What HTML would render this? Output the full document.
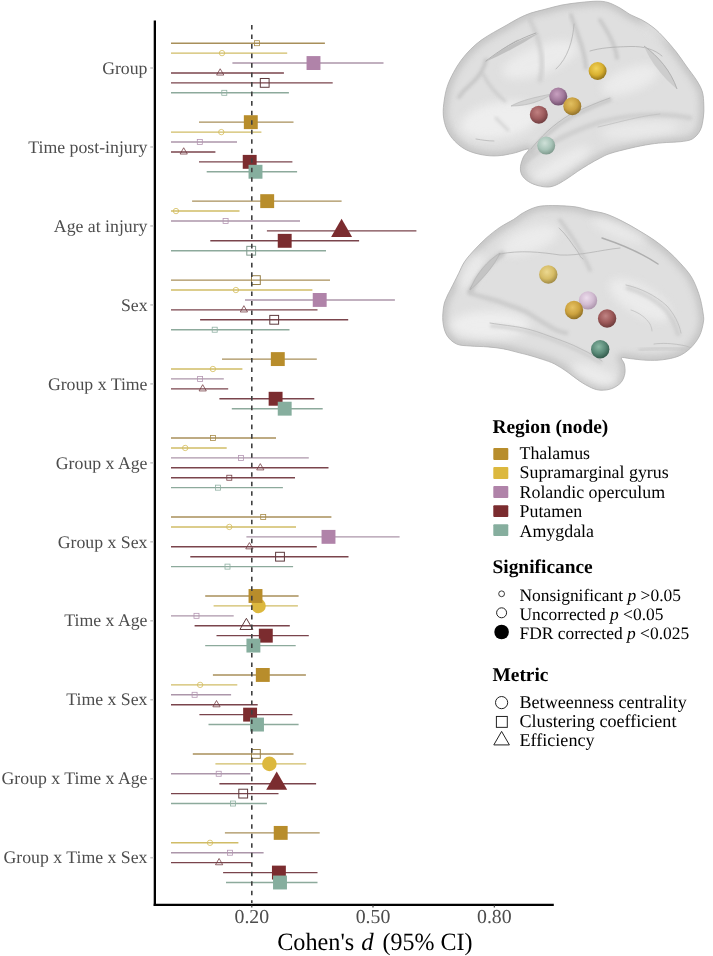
<!DOCTYPE html>
<html><head><meta charset="utf-8"><title>Forest plot</title>
<style>
html,body{margin:0;padding:0;background:#fff;}
body{width:713px;height:956px;overflow:hidden;}
svg{display:block;will-change:transform;}
text{font-family:"Liberation Serif",serif;text-rendering:geometricPrecision;}
.yt{font-size:17.75px;fill:#4d4d4d;}
.xt{font-size:19.8px;fill:#4d4d4d;}
.xtitle{font-size:24.8px;fill:#000;}
.lt{font-size:19.4px;font-weight:bold;fill:#000;}
.ll{font-size:17.9px;fill:#000;}
.ls{font-size:17.45px;}
.lm{font-size:18.1px;}
</style></head>
<body>
<svg width="713" height="956" viewBox="0 0 713 956">
<defs>
<radialGradient id="bg1" cx="0.45" cy="0.4" r="0.65"><stop offset="0" stop-color="#e6e6e6"/><stop offset="0.7" stop-color="#dcdcdc"/><stop offset="1" stop-color="#cfcfcf"/></radialGradient>
<radialGradient id="bg2" cx="0.45" cy="0.45" r="0.65"><stop offset="0" stop-color="#e6e6e6"/><stop offset="0.7" stop-color="#dcdcdc"/><stop offset="1" stop-color="#cfcfcf"/></radialGradient>
<radialGradient id="sp_yel" cx="0.4" cy="0.35" r="0.7"><stop offset="0" stop-color="#f0d060"/><stop offset="0.55" stop-color="#d8ae30"/><stop offset="1" stop-color="#9a7a20"/></radialGradient>
<radialGradient id="sp_pink" cx="0.4" cy="0.35" r="0.7"><stop offset="0" stop-color="#d8b0d0"/><stop offset="0.55" stop-color="#a880a0"/><stop offset="1" stop-color="#705070"/></radialGradient>
<radialGradient id="sp_gold" cx="0.4" cy="0.35" r="0.7"><stop offset="0" stop-color="#e0b050"/><stop offset="0.55" stop-color="#c0922c"/><stop offset="1" stop-color="#806020"/></radialGradient>
<radialGradient id="sp_red" cx="0.4" cy="0.35" r="0.7"><stop offset="0" stop-color="#b06060"/><stop offset="0.55" stop-color="#8a4444"/><stop offset="1" stop-color="#5a2a2a"/></radialGradient>
<radialGradient id="sp_teal" cx="0.4" cy="0.35" r="0.7"><stop offset="0" stop-color="#b0d0c0"/><stop offset="0.55" stop-color="#80a898"/><stop offset="1" stop-color="#506a60"/></radialGradient>
<filter id="blur2" x="-20%" y="-20%" width="140%" height="140%"><feGaussianBlur stdDeviation="1.5"/></filter>
<filter id="blur3" x="-20%" y="-20%" width="140%" height="140%"><feGaussianBlur stdDeviation="3"/></filter>
<filter id="blur4" x="-50%" y="-50%" width="200%" height="200%"><feGaussianBlur stdDeviation="5"/></filter>
</defs>
<rect width="713" height="956" fill="#fff"/>
<clipPath id="cb1"><path d="M444.3,100.0 C445.0,95.2 445.8,91.0 447.3,86.4 C448.8,81.8 451.2,76.9 453.5,72.5 C455.8,68.1 458.4,64.0 461.2,60.2 C464.0,56.4 467.1,52.8 470.5,49.4 C473.9,46.0 477.4,42.9 481.3,40.1 C485.2,37.3 489.5,34.8 493.6,32.4 C497.7,30.0 501.9,27.8 506.0,25.5 C510.1,23.2 514.2,20.6 518.3,18.5 C522.4,16.4 526.2,14.6 530.7,13.1 C535.2,11.6 539.8,10.7 545.0,9.3 C550.2,8.0 556.2,6.1 562.0,5.0 C567.8,3.9 574.2,3.1 580.0,2.5 C585.8,1.9 592.3,1.2 597.0,1.2 C601.7,1.2 604.2,1.4 608.0,2.5 C611.8,3.6 616.3,6.0 620.0,8.0 C623.7,10.0 626.3,12.5 630.0,14.5 C633.7,16.5 638.0,17.8 642.0,20.0 C646.0,22.2 650.3,25.0 654.0,28.0 C657.7,31.0 660.6,34.0 664.3,38.0 C668.0,42.0 672.6,47.3 676.3,52.0 C680.0,56.7 682.9,61.3 686.3,66.0 C689.6,70.7 693.7,75.7 696.4,80.0 C699.1,84.3 701.2,87.8 702.4,92.0 C703.6,96.2 703.6,100.8 703.8,105.0 C704.0,109.2 704.0,112.8 703.4,117.0 C702.8,121.2 702.2,126.3 700.4,130.0 C698.5,133.7 695.6,137.1 692.3,139.0 C688.9,140.9 684.6,141.1 680.3,141.7 C676.0,142.3 671.3,142.1 666.3,142.5 C661.3,142.9 656.2,143.2 650.2,144.2 C644.2,145.1 636.9,146.6 630.2,148.2 C623.5,149.8 615.1,151.8 610.0,153.5 C604.9,155.2 603.4,156.4 599.8,158.2 C596.2,160.0 592.2,162.3 588.5,164.5 C584.8,166.7 581.0,169.1 577.3,171.6 C573.6,174.1 569.6,177.1 566.1,179.3 C562.6,181.5 559.3,183.6 556.3,184.9 C553.3,186.2 550.9,186.9 547.9,187.0 C544.9,187.1 541.3,186.5 538.0,185.6 C534.7,184.7 530.9,183.2 528.2,181.4 C525.5,179.6 523.2,177.5 521.9,175.0 C520.6,172.5 520.2,169.6 520.5,166.6 C520.8,163.6 522.2,159.7 523.5,156.8 C524.8,153.9 530.2,149.6 528.5,149.0 C526.8,148.4 518.6,152.1 513.5,153.2 C508.4,154.3 503.0,155.5 497.8,155.8 C492.6,156.1 487.3,155.8 482.1,154.8 C476.9,153.8 471.0,152.2 466.4,149.9 C461.8,147.6 457.9,144.4 454.6,141.0 C451.3,137.6 448.7,133.6 446.8,129.3 C444.9,125.0 443.7,119.9 443.3,115.0 C442.9,110.1 443.6,104.8 444.3,100.0 Z"/></clipPath>
<path d="M444.3,100.0 C445.0,95.2 445.8,91.0 447.3,86.4 C448.8,81.8 451.2,76.9 453.5,72.5 C455.8,68.1 458.4,64.0 461.2,60.2 C464.0,56.4 467.1,52.8 470.5,49.4 C473.9,46.0 477.4,42.9 481.3,40.1 C485.2,37.3 489.5,34.8 493.6,32.4 C497.7,30.0 501.9,27.8 506.0,25.5 C510.1,23.2 514.2,20.6 518.3,18.5 C522.4,16.4 526.2,14.6 530.7,13.1 C535.2,11.6 539.8,10.7 545.0,9.3 C550.2,8.0 556.2,6.1 562.0,5.0 C567.8,3.9 574.2,3.1 580.0,2.5 C585.8,1.9 592.3,1.2 597.0,1.2 C601.7,1.2 604.2,1.4 608.0,2.5 C611.8,3.6 616.3,6.0 620.0,8.0 C623.7,10.0 626.3,12.5 630.0,14.5 C633.7,16.5 638.0,17.8 642.0,20.0 C646.0,22.2 650.3,25.0 654.0,28.0 C657.7,31.0 660.6,34.0 664.3,38.0 C668.0,42.0 672.6,47.3 676.3,52.0 C680.0,56.7 682.9,61.3 686.3,66.0 C689.6,70.7 693.7,75.7 696.4,80.0 C699.1,84.3 701.2,87.8 702.4,92.0 C703.6,96.2 703.6,100.8 703.8,105.0 C704.0,109.2 704.0,112.8 703.4,117.0 C702.8,121.2 702.2,126.3 700.4,130.0 C698.5,133.7 695.6,137.1 692.3,139.0 C688.9,140.9 684.6,141.1 680.3,141.7 C676.0,142.3 671.3,142.1 666.3,142.5 C661.3,142.9 656.2,143.2 650.2,144.2 C644.2,145.1 636.9,146.6 630.2,148.2 C623.5,149.8 615.1,151.8 610.0,153.5 C604.9,155.2 603.4,156.4 599.8,158.2 C596.2,160.0 592.2,162.3 588.5,164.5 C584.8,166.7 581.0,169.1 577.3,171.6 C573.6,174.1 569.6,177.1 566.1,179.3 C562.6,181.5 559.3,183.6 556.3,184.9 C553.3,186.2 550.9,186.9 547.9,187.0 C544.9,187.1 541.3,186.5 538.0,185.6 C534.7,184.7 530.9,183.2 528.2,181.4 C525.5,179.6 523.2,177.5 521.9,175.0 C520.6,172.5 520.2,169.6 520.5,166.6 C520.8,163.6 522.2,159.7 523.5,156.8 C524.8,153.9 530.2,149.6 528.5,149.0 C526.8,148.4 518.6,152.1 513.5,153.2 C508.4,154.3 503.0,155.5 497.8,155.8 C492.6,156.1 487.3,155.8 482.1,154.8 C476.9,153.8 471.0,152.2 466.4,149.9 C461.8,147.6 457.9,144.4 454.6,141.0 C451.3,137.6 448.7,133.6 446.8,129.3 C444.9,125.0 443.7,119.9 443.3,115.0 C442.9,110.1 443.6,104.8 444.3,100.0 Z" fill="#dfdfdf"/>
<g clip-path="url(#cb1)">
<path d="M444.3,100.0 C445.0,95.2 445.8,91.0 447.3,86.4 C448.8,81.8 451.2,76.9 453.5,72.5 C455.8,68.1 458.4,64.0 461.2,60.2 C464.0,56.4 467.1,52.8 470.5,49.4 C473.9,46.0 477.4,42.9 481.3,40.1 C485.2,37.3 489.5,34.8 493.6,32.4 C497.7,30.0 501.9,27.8 506.0,25.5 C510.1,23.2 514.2,20.6 518.3,18.5 C522.4,16.4 526.2,14.6 530.7,13.1 C535.2,11.6 539.8,10.7 545.0,9.3 C550.2,8.0 556.2,6.1 562.0,5.0 C567.8,3.9 574.2,3.1 580.0,2.5 C585.8,1.9 592.3,1.2 597.0,1.2 C601.7,1.2 604.2,1.4 608.0,2.5 C611.8,3.6 616.3,6.0 620.0,8.0 C623.7,10.0 626.3,12.5 630.0,14.5 C633.7,16.5 638.0,17.8 642.0,20.0 C646.0,22.2 650.3,25.0 654.0,28.0 C657.7,31.0 660.6,34.0 664.3,38.0 C668.0,42.0 672.6,47.3 676.3,52.0 C680.0,56.7 682.9,61.3 686.3,66.0 C689.6,70.7 693.7,75.7 696.4,80.0 C699.1,84.3 701.2,87.8 702.4,92.0 C703.6,96.2 703.6,100.8 703.8,105.0 C704.0,109.2 704.0,112.8 703.4,117.0 C702.8,121.2 702.2,126.3 700.4,130.0 C698.5,133.7 695.6,137.1 692.3,139.0 C688.9,140.9 684.6,141.1 680.3,141.7 C676.0,142.3 671.3,142.1 666.3,142.5 C661.3,142.9 656.2,143.2 650.2,144.2 C644.2,145.1 636.9,146.6 630.2,148.2 C623.5,149.8 615.1,151.8 610.0,153.5 C604.9,155.2 603.4,156.4 599.8,158.2 C596.2,160.0 592.2,162.3 588.5,164.5 C584.8,166.7 581.0,169.1 577.3,171.6 C573.6,174.1 569.6,177.1 566.1,179.3 C562.6,181.5 559.3,183.6 556.3,184.9 C553.3,186.2 550.9,186.9 547.9,187.0 C544.9,187.1 541.3,186.5 538.0,185.6 C534.7,184.7 530.9,183.2 528.2,181.4 C525.5,179.6 523.2,177.5 521.9,175.0 C520.6,172.5 520.2,169.6 520.5,166.6 C520.8,163.6 522.2,159.7 523.5,156.8 C524.8,153.9 530.2,149.6 528.5,149.0 C526.8,148.4 518.6,152.1 513.5,153.2 C508.4,154.3 503.0,155.5 497.8,155.8 C492.6,156.1 487.3,155.8 482.1,154.8 C476.9,153.8 471.0,152.2 466.4,149.9 C461.8,147.6 457.9,144.4 454.6,141.0 C451.3,137.6 448.7,133.6 446.8,129.3 C444.9,125.0 443.7,119.9 443.3,115.0 C442.9,110.1 443.6,104.8 444.3,100.0 Z" fill="none" stroke="#bdbdbd" stroke-width="9" filter="url(#blur3)" opacity="0.75"/>
<ellipse cx="500" cy="120" rx="40" ry="18" transform="rotate(-10 500 120)" fill="#f4f4f4" opacity="0.7" filter="url(#blur4)"/>
<ellipse cx="540" cy="60" rx="40" ry="14" transform="rotate(-20 540 60)" fill="#f4f4f4" opacity="0.6" filter="url(#blur4)"/>
<ellipse cx="630" cy="80" rx="30" ry="12" transform="rotate(-20 630 80)" fill="#f4f4f4" opacity="0.6" filter="url(#blur4)"/>
<ellipse cx="640" cy="130" rx="40" ry="8" transform="rotate(-5 640 130)" fill="#f4f4f4" opacity="0.5" filter="url(#blur4)"/>
<ellipse cx="560" cy="165" rx="35" ry="8" transform="rotate(-30 560 165)" fill="#f4f4f4" opacity="0.6" filter="url(#blur4)"/>
<ellipse cx="660" cy="30" rx="20" ry="8" transform="rotate(30 660 30)" fill="#f4f4f4" opacity="0.5" filter="url(#blur4)"/>
<path d="M571,15 C578,35 585,52 586,68" fill="none" stroke="#c4c4c4" stroke-width="4" stroke-linecap="round" opacity="0.8" filter="url(#blur2)"/>
<path d="M600,20 C610,35 616,48 617,58" fill="none" stroke="#c4c4c4" stroke-width="4" stroke-linecap="round" opacity="0.8" filter="url(#blur2)"/>
<path d="M531,152 C540,140 552,128 571,117 C585,110 598,104 610,100" fill="none" stroke="#c4c4c4" stroke-width="4" stroke-linecap="round" opacity="0.8" filter="url(#blur2)"/>
<path d="M486,60 C484,70 478,78 470,85 C464,90 461,94 459,97" fill="none" stroke="#c2c2c2" stroke-width="4" stroke-linecap="round" opacity="0.8" filter="url(#blur2)"/>
<path d="M483,74 C488,84 496,94 505,101" fill="none" stroke="#c6c6c6" stroke-width="3" stroke-linecap="round" opacity="0.7" filter="url(#blur2)"/>
<path d="M496,118 C500,122 504,126 508,130" fill="none" stroke="#c6c6c6" stroke-width="3" stroke-linecap="round" opacity="0.6" filter="url(#blur2)"/>
<path d="M520,165 C540,150 560,135 600,122 C630,115 660,112 690,118" fill="none" stroke="#c6c6c6" stroke-width="5" stroke-linecap="round" opacity="0.6" filter="url(#blur2)"/>
<path d="M530,20 C540,40 545,60 540,80" fill="none" stroke="#c8c8c8" stroke-width="5" stroke-linecap="round" opacity="0.6" filter="url(#blur2)"/>
<path d="M486,61 C500,50 516,40 536,33" fill="none" stroke="#a8a8a8" stroke-width="1.0" stroke-linecap="round" opacity="0.9"/>
<path d="M500,51 C506,47 512,43 518,40" fill="none" stroke="#b0b0b0" stroke-width="1.0" stroke-linecap="round" opacity="0.8"/>
<path d="M574,24 C573,40 568,58 556,69" fill="none" stroke="#b4b4b4" stroke-width="1.0" stroke-linecap="round" opacity="0.8"/>
<path d="M590,51 C600,48 612,47 630,46.5 C645,46 655,50 662,56" fill="none" stroke="#b0b0b0" stroke-width="1.0" stroke-linecap="round" opacity="0.8"/>
<path d="M476,139 C482,140 488,141 494,141" fill="none" stroke="#b8b8b8" stroke-width="1.0" stroke-linecap="round" opacity="0.8"/>
<path d="M531,149 C540,138 552,125 571,114 C585,108 598,102 610,98" fill="none" stroke="#b4b4b4" stroke-width="1.0" stroke-linecap="round" opacity="0.8"/>
<path d="M598,127 C620,122 640,116 660,114" fill="none" stroke="#c0c0c0" stroke-width="1.0" stroke-linecap="round" opacity="0.8"/>
<path d="M511,106 C522,100 536,97 552,94 C541,101 528,106 511,106 Z" fill="#d2d2d2" stroke="#b4b4b4" stroke-width="0.6"/><path d="M485,62 C500,50 518,40 539,33 C522,44 504,54 485,62 Z" fill="#bcbcbc" opacity="0.9"/><path d="M644,46 C658,56 671,71 677,89 C669,83 652,66 644,46 Z" fill="#cdcdcd"/><path d="M644,46 C658,56 671,71 677,89" fill="none" stroke="#a8a8a8" stroke-width="0.8"/>
</g>
<path d="M444.3,100.0 C445.0,95.2 445.8,91.0 447.3,86.4 C448.8,81.8 451.2,76.9 453.5,72.5 C455.8,68.1 458.4,64.0 461.2,60.2 C464.0,56.4 467.1,52.8 470.5,49.4 C473.9,46.0 477.4,42.9 481.3,40.1 C485.2,37.3 489.5,34.8 493.6,32.4 C497.7,30.0 501.9,27.8 506.0,25.5 C510.1,23.2 514.2,20.6 518.3,18.5 C522.4,16.4 526.2,14.6 530.7,13.1 C535.2,11.6 539.8,10.7 545.0,9.3 C550.2,8.0 556.2,6.1 562.0,5.0 C567.8,3.9 574.2,3.1 580.0,2.5 C585.8,1.9 592.3,1.2 597.0,1.2 C601.7,1.2 604.2,1.4 608.0,2.5 C611.8,3.6 616.3,6.0 620.0,8.0 C623.7,10.0 626.3,12.5 630.0,14.5 C633.7,16.5 638.0,17.8 642.0,20.0 C646.0,22.2 650.3,25.0 654.0,28.0 C657.7,31.0 660.6,34.0 664.3,38.0 C668.0,42.0 672.6,47.3 676.3,52.0 C680.0,56.7 682.9,61.3 686.3,66.0 C689.6,70.7 693.7,75.7 696.4,80.0 C699.1,84.3 701.2,87.8 702.4,92.0 C703.6,96.2 703.6,100.8 703.8,105.0 C704.0,109.2 704.0,112.8 703.4,117.0 C702.8,121.2 702.2,126.3 700.4,130.0 C698.5,133.7 695.6,137.1 692.3,139.0 C688.9,140.9 684.6,141.1 680.3,141.7 C676.0,142.3 671.3,142.1 666.3,142.5 C661.3,142.9 656.2,143.2 650.2,144.2 C644.2,145.1 636.9,146.6 630.2,148.2 C623.5,149.8 615.1,151.8 610.0,153.5 C604.9,155.2 603.4,156.4 599.8,158.2 C596.2,160.0 592.2,162.3 588.5,164.5 C584.8,166.7 581.0,169.1 577.3,171.6 C573.6,174.1 569.6,177.1 566.1,179.3 C562.6,181.5 559.3,183.6 556.3,184.9 C553.3,186.2 550.9,186.9 547.9,187.0 C544.9,187.1 541.3,186.5 538.0,185.6 C534.7,184.7 530.9,183.2 528.2,181.4 C525.5,179.6 523.2,177.5 521.9,175.0 C520.6,172.5 520.2,169.6 520.5,166.6 C520.8,163.6 522.2,159.7 523.5,156.8 C524.8,153.9 530.2,149.6 528.5,149.0 C526.8,148.4 518.6,152.1 513.5,153.2 C508.4,154.3 503.0,155.5 497.8,155.8 C492.6,156.1 487.3,155.8 482.1,154.8 C476.9,153.8 471.0,152.2 466.4,149.9 C461.8,147.6 457.9,144.4 454.6,141.0 C451.3,137.6 448.7,133.6 446.8,129.3 C444.9,125.0 443.7,119.9 443.3,115.0 C442.9,110.1 443.6,104.8 444.3,100.0 Z" fill="none" stroke="#b0b0b0" stroke-width="0.8"/>
<clipPath id="cb2"><path d="M443.8,305.7 C444.5,301.6 445.7,299.8 446.8,297.0 C447.9,294.2 448.7,293.1 450.7,289.2 C452.7,285.3 456.3,278.1 458.6,273.5 C460.9,268.9 461.9,265.7 464.5,261.8 C467.1,257.9 470.7,253.9 474.3,250.0 C477.9,246.1 481.9,242.0 486.1,238.2 C490.4,234.4 495.2,230.5 499.8,227.4 C504.4,224.3 509.6,221.9 513.5,219.5 C517.4,217.1 519.5,214.8 523.4,212.7 C527.3,210.6 532.2,208.0 537.1,206.8 C542.0,205.6 546.5,205.6 552.8,205.6 C559.1,205.6 568.8,206.0 575.0,206.8 C581.2,207.6 584.9,209.3 590.1,210.5 C595.3,211.7 600.8,212.2 606.1,214.0 C611.4,215.8 616.8,218.4 622.1,221.1 C627.5,223.8 632.9,226.9 638.2,230.1 C643.6,233.3 649.2,236.6 654.2,240.1 C659.2,243.6 663.9,247.3 668.3,251.2 C672.6,255.0 676.6,259.2 680.3,263.2 C684.0,267.2 687.6,271.2 690.3,275.2 C693.0,279.2 694.7,283.2 696.4,287.3 C698.1,291.4 699.5,295.6 700.6,300.0 C701.7,304.4 702.7,310.3 703.2,314.0 C703.7,317.7 704.0,318.4 703.4,322.1 C702.8,325.8 701.6,331.8 699.4,336.1 C697.2,340.5 693.8,344.9 690.3,348.2 C686.8,351.5 683.0,354.3 678.3,356.2 C673.6,358.1 667.6,359.1 662.3,359.8 C656.9,360.5 651.6,360.4 646.2,360.2 C640.9,360.0 634.3,359.0 630.2,358.6 C626.1,358.2 622.5,356.9 621.5,357.8 C620.5,358.7 623.7,361.4 624.3,364.0 C624.9,366.6 625.4,370.1 624.9,373.2 C624.4,376.3 623.2,379.9 621.0,382.5 C618.8,385.1 615.1,387.3 611.8,388.6 C608.5,389.9 604.4,390.3 601.0,390.2 C597.6,390.1 595.3,389.4 591.7,387.9 C588.1,386.3 583.5,383.6 579.4,380.9 C575.3,378.2 571.1,374.5 567.0,371.7 C562.9,368.9 558.8,366.1 554.7,364.0 C550.6,361.9 546.4,360.7 542.3,359.3 C538.2,357.9 533.8,356.6 530.0,355.5 C526.2,354.4 523.8,353.9 519.4,352.8 C515.0,351.7 508.9,349.9 503.7,348.9 C498.5,347.9 493.6,347.4 488.0,346.9 C482.4,346.4 475.5,346.5 470.3,346.0 C465.1,345.5 460.5,345.8 456.6,344.0 C452.7,342.2 449.1,339.0 446.8,335.2 C444.5,331.4 443.4,326.3 442.9,321.4 C442.4,316.5 443.1,309.8 443.8,305.7 Z"/></clipPath>
<path d="M443.8,305.7 C444.5,301.6 445.7,299.8 446.8,297.0 C447.9,294.2 448.7,293.1 450.7,289.2 C452.7,285.3 456.3,278.1 458.6,273.5 C460.9,268.9 461.9,265.7 464.5,261.8 C467.1,257.9 470.7,253.9 474.3,250.0 C477.9,246.1 481.9,242.0 486.1,238.2 C490.4,234.4 495.2,230.5 499.8,227.4 C504.4,224.3 509.6,221.9 513.5,219.5 C517.4,217.1 519.5,214.8 523.4,212.7 C527.3,210.6 532.2,208.0 537.1,206.8 C542.0,205.6 546.5,205.6 552.8,205.6 C559.1,205.6 568.8,206.0 575.0,206.8 C581.2,207.6 584.9,209.3 590.1,210.5 C595.3,211.7 600.8,212.2 606.1,214.0 C611.4,215.8 616.8,218.4 622.1,221.1 C627.5,223.8 632.9,226.9 638.2,230.1 C643.6,233.3 649.2,236.6 654.2,240.1 C659.2,243.6 663.9,247.3 668.3,251.2 C672.6,255.0 676.6,259.2 680.3,263.2 C684.0,267.2 687.6,271.2 690.3,275.2 C693.0,279.2 694.7,283.2 696.4,287.3 C698.1,291.4 699.5,295.6 700.6,300.0 C701.7,304.4 702.7,310.3 703.2,314.0 C703.7,317.7 704.0,318.4 703.4,322.1 C702.8,325.8 701.6,331.8 699.4,336.1 C697.2,340.5 693.8,344.9 690.3,348.2 C686.8,351.5 683.0,354.3 678.3,356.2 C673.6,358.1 667.6,359.1 662.3,359.8 C656.9,360.5 651.6,360.4 646.2,360.2 C640.9,360.0 634.3,359.0 630.2,358.6 C626.1,358.2 622.5,356.9 621.5,357.8 C620.5,358.7 623.7,361.4 624.3,364.0 C624.9,366.6 625.4,370.1 624.9,373.2 C624.4,376.3 623.2,379.9 621.0,382.5 C618.8,385.1 615.1,387.3 611.8,388.6 C608.5,389.9 604.4,390.3 601.0,390.2 C597.6,390.1 595.3,389.4 591.7,387.9 C588.1,386.3 583.5,383.6 579.4,380.9 C575.3,378.2 571.1,374.5 567.0,371.7 C562.9,368.9 558.8,366.1 554.7,364.0 C550.6,361.9 546.4,360.7 542.3,359.3 C538.2,357.9 533.8,356.6 530.0,355.5 C526.2,354.4 523.8,353.9 519.4,352.8 C515.0,351.7 508.9,349.9 503.7,348.9 C498.5,347.9 493.6,347.4 488.0,346.9 C482.4,346.4 475.5,346.5 470.3,346.0 C465.1,345.5 460.5,345.8 456.6,344.0 C452.7,342.2 449.1,339.0 446.8,335.2 C444.5,331.4 443.4,326.3 442.9,321.4 C442.4,316.5 443.1,309.8 443.8,305.7 Z" fill="#dfdfdf"/>
<g clip-path="url(#cb2)">
<path d="M443.8,305.7 C444.5,301.6 445.7,299.8 446.8,297.0 C447.9,294.2 448.7,293.1 450.7,289.2 C452.7,285.3 456.3,278.1 458.6,273.5 C460.9,268.9 461.9,265.7 464.5,261.8 C467.1,257.9 470.7,253.9 474.3,250.0 C477.9,246.1 481.9,242.0 486.1,238.2 C490.4,234.4 495.2,230.5 499.8,227.4 C504.4,224.3 509.6,221.9 513.5,219.5 C517.4,217.1 519.5,214.8 523.4,212.7 C527.3,210.6 532.2,208.0 537.1,206.8 C542.0,205.6 546.5,205.6 552.8,205.6 C559.1,205.6 568.8,206.0 575.0,206.8 C581.2,207.6 584.9,209.3 590.1,210.5 C595.3,211.7 600.8,212.2 606.1,214.0 C611.4,215.8 616.8,218.4 622.1,221.1 C627.5,223.8 632.9,226.9 638.2,230.1 C643.6,233.3 649.2,236.6 654.2,240.1 C659.2,243.6 663.9,247.3 668.3,251.2 C672.6,255.0 676.6,259.2 680.3,263.2 C684.0,267.2 687.6,271.2 690.3,275.2 C693.0,279.2 694.7,283.2 696.4,287.3 C698.1,291.4 699.5,295.6 700.6,300.0 C701.7,304.4 702.7,310.3 703.2,314.0 C703.7,317.7 704.0,318.4 703.4,322.1 C702.8,325.8 701.6,331.8 699.4,336.1 C697.2,340.5 693.8,344.9 690.3,348.2 C686.8,351.5 683.0,354.3 678.3,356.2 C673.6,358.1 667.6,359.1 662.3,359.8 C656.9,360.5 651.6,360.4 646.2,360.2 C640.9,360.0 634.3,359.0 630.2,358.6 C626.1,358.2 622.5,356.9 621.5,357.8 C620.5,358.7 623.7,361.4 624.3,364.0 C624.9,366.6 625.4,370.1 624.9,373.2 C624.4,376.3 623.2,379.9 621.0,382.5 C618.8,385.1 615.1,387.3 611.8,388.6 C608.5,389.9 604.4,390.3 601.0,390.2 C597.6,390.1 595.3,389.4 591.7,387.9 C588.1,386.3 583.5,383.6 579.4,380.9 C575.3,378.2 571.1,374.5 567.0,371.7 C562.9,368.9 558.8,366.1 554.7,364.0 C550.6,361.9 546.4,360.7 542.3,359.3 C538.2,357.9 533.8,356.6 530.0,355.5 C526.2,354.4 523.8,353.9 519.4,352.8 C515.0,351.7 508.9,349.9 503.7,348.9 C498.5,347.9 493.6,347.4 488.0,346.9 C482.4,346.4 475.5,346.5 470.3,346.0 C465.1,345.5 460.5,345.8 456.6,344.0 C452.7,342.2 449.1,339.0 446.8,335.2 C444.5,331.4 443.4,326.3 442.9,321.4 C442.4,316.5 443.1,309.8 443.8,305.7 Z" fill="none" stroke="#bdbdbd" stroke-width="9" filter="url(#blur3)" opacity="0.75"/>
<ellipse cx="490" cy="325" rx="40" ry="14" transform="rotate(0 490 325)" fill="#f4f4f4" opacity="0.7" filter="url(#blur4)"/>
<ellipse cx="530" cy="240" rx="30" ry="12" transform="rotate(-20 530 240)" fill="#f4f4f4" opacity="0.6" filter="url(#blur4)"/>
<ellipse cx="640" cy="300" rx="35" ry="14" transform="rotate(30 640 300)" fill="#f4f4f4" opacity="0.6" filter="url(#blur4)"/>
<ellipse cx="595" cy="375" rx="25" ry="8" transform="rotate(20 595 375)" fill="#f4f4f4" opacity="0.6" filter="url(#blur4)"/>
<ellipse cx="620" cy="230" rx="30" ry="8" transform="rotate(20 620 230)" fill="#f4f4f4" opacity="0.5" filter="url(#blur4)"/>
<ellipse cx="470" cy="270" rx="12" ry="20" transform="rotate(30 470 270)" fill="#f4f4f4" opacity="0.5" filter="url(#blur4)"/>
<path d="M470,292 C478,275 490,262 502,254" fill="none" stroke="#c2c2c2" stroke-width="6" stroke-linecap="round" opacity="0.8" filter="url(#blur2)"/>
<path d="M560,220 C575,240 585,258 590,270" fill="none" stroke="#c6c6c6" stroke-width="4" stroke-linecap="round" opacity="0.7" filter="url(#blur2)"/>
<path d="M628,288 C642,292 656,300 666,310 C672,318 676,326 678,334" fill="none" stroke="#c8c8c8" stroke-width="5" stroke-linecap="round" opacity="0.6" filter="url(#blur2)"/>
<path d="M473,294 C485,298 496,300 503,303 C513,307 521,309 528,313 C536,318 542,322 549,326 C555,330 560,332 566,333" fill="none" stroke="#c6c6c6" stroke-width="5" stroke-linecap="round" opacity="0.7" filter="url(#blur2)"/>
<path d="M492,326 C510,327 530,331 549,338 C565,344 580,350 600,362" fill="none" stroke="#c8c8c8" stroke-width="4" stroke-linecap="round" opacity="0.6" filter="url(#blur2)"/>
<path d="M640,350 C655,348 670,347 690,350" fill="none" stroke="#c6c6c6" stroke-width="4" stroke-linecap="round" opacity="0.6" filter="url(#blur2)"/>
<path d="M602,238 C620,244 640,252 658,264" fill="none" stroke="#a8a8a8" stroke-width="1.4" stroke-linecap="round" opacity="0.9"/>
<path d="M470,289 C480,275 490,262 500,254" fill="none" stroke="#b0b0b0" stroke-width="1.2" stroke-linecap="round" opacity="0.8"/>
<path d="M500,254 C520,250 540,252 560,255 C580,256 600,250 620,248" fill="none" stroke="#b4b4b4" stroke-width="1.0" stroke-linecap="round" opacity="0.8"/>
<path d="M626,285 C640,288 655,295 667,306 C674,314 679,323 681,333" fill="none" stroke="#bdbdbd" stroke-width="1.0" stroke-linecap="round" opacity="0.8"/>
<path d="M631,310 C640,313 646,318 650,324 C652,328 652,331 652,331" fill="none" stroke="#c0c0c0" stroke-width="1.0" stroke-linecap="round" opacity="0.8"/>
<path d="M654,344 C662,343 672,343 686,346 C692,348 695,350 697,351" fill="none" stroke="#bcbcbc" stroke-width="1.0" stroke-linecap="round" opacity="0.8"/>
<path d="M559,228 C566,234 572,244 578,252 C580,256 581,258 583,259" fill="none" stroke="#b4b4b4" stroke-width="1.0" stroke-linecap="round" opacity="0.8"/>
<path d="M490,323 C502,325 514,326 523,328 C533,330 541,333 549,336 C560,340 572,344 581,349 C590,353 596,357 602,361" fill="none" stroke="#b8b8b8" stroke-width="1.0" stroke-linecap="round" opacity="0.8"/>
<path d="M470,290 C476,274 487,261 500,253 C494,266 483,279 470,290 Z" fill="#c4c4c4" stroke="#b0b0b0" stroke-width="0.6"/>
</g>
<path d="M443.8,305.7 C444.5,301.6 445.7,299.8 446.8,297.0 C447.9,294.2 448.7,293.1 450.7,289.2 C452.7,285.3 456.3,278.1 458.6,273.5 C460.9,268.9 461.9,265.7 464.5,261.8 C467.1,257.9 470.7,253.9 474.3,250.0 C477.9,246.1 481.9,242.0 486.1,238.2 C490.4,234.4 495.2,230.5 499.8,227.4 C504.4,224.3 509.6,221.9 513.5,219.5 C517.4,217.1 519.5,214.8 523.4,212.7 C527.3,210.6 532.2,208.0 537.1,206.8 C542.0,205.6 546.5,205.6 552.8,205.6 C559.1,205.6 568.8,206.0 575.0,206.8 C581.2,207.6 584.9,209.3 590.1,210.5 C595.3,211.7 600.8,212.2 606.1,214.0 C611.4,215.8 616.8,218.4 622.1,221.1 C627.5,223.8 632.9,226.9 638.2,230.1 C643.6,233.3 649.2,236.6 654.2,240.1 C659.2,243.6 663.9,247.3 668.3,251.2 C672.6,255.0 676.6,259.2 680.3,263.2 C684.0,267.2 687.6,271.2 690.3,275.2 C693.0,279.2 694.7,283.2 696.4,287.3 C698.1,291.4 699.5,295.6 700.6,300.0 C701.7,304.4 702.7,310.3 703.2,314.0 C703.7,317.7 704.0,318.4 703.4,322.1 C702.8,325.8 701.6,331.8 699.4,336.1 C697.2,340.5 693.8,344.9 690.3,348.2 C686.8,351.5 683.0,354.3 678.3,356.2 C673.6,358.1 667.6,359.1 662.3,359.8 C656.9,360.5 651.6,360.4 646.2,360.2 C640.9,360.0 634.3,359.0 630.2,358.6 C626.1,358.2 622.5,356.9 621.5,357.8 C620.5,358.7 623.7,361.4 624.3,364.0 C624.9,366.6 625.4,370.1 624.9,373.2 C624.4,376.3 623.2,379.9 621.0,382.5 C618.8,385.1 615.1,387.3 611.8,388.6 C608.5,389.9 604.4,390.3 601.0,390.2 C597.6,390.1 595.3,389.4 591.7,387.9 C588.1,386.3 583.5,383.6 579.4,380.9 C575.3,378.2 571.1,374.5 567.0,371.7 C562.9,368.9 558.8,366.1 554.7,364.0 C550.6,361.9 546.4,360.7 542.3,359.3 C538.2,357.9 533.8,356.6 530.0,355.5 C526.2,354.4 523.8,353.9 519.4,352.8 C515.0,351.7 508.9,349.9 503.7,348.9 C498.5,347.9 493.6,347.4 488.0,346.9 C482.4,346.4 475.5,346.5 470.3,346.0 C465.1,345.5 460.5,345.8 456.6,344.0 C452.7,342.2 449.1,339.0 446.8,335.2 C444.5,331.4 443.4,326.3 442.9,321.4 C442.4,316.5 443.1,309.8 443.8,305.7 Z" fill="none" stroke="#b0b0b0" stroke-width="0.8"/>
<radialGradient id="sg0" cx="0.42" cy="0.36" r="0.68"><stop offset="0" stop-color="#f2d35a"/><stop offset="0.55" stop-color="#d8b030"/><stop offset="1" stop-color="#8a6c18"/></radialGradient>
<circle cx="597.6" cy="71.0" r="9.0" fill="url(#sg0)"/>
<radialGradient id="sg1" cx="0.42" cy="0.36" r="0.68"><stop offset="0" stop-color="#c8a0c0"/><stop offset="0.55" stop-color="#a27a9c"/><stop offset="1" stop-color="#6a4a66"/></radialGradient>
<circle cx="558.3" cy="96.6" r="9.0" fill="url(#sg1)"/>
<radialGradient id="sg2" cx="0.42" cy="0.36" r="0.68"><stop offset="0" stop-color="#e2c060"/><stop offset="0.55" stop-color="#c9a040"/><stop offset="1" stop-color="#8a6c28"/></radialGradient>
<circle cx="572.3" cy="106.2" r="9.0" fill="url(#sg2)"/>
<radialGradient id="sg3" cx="0.42" cy="0.36" r="0.68"><stop offset="0" stop-color="#c08080"/><stop offset="0.55" stop-color="#9e5c5e"/><stop offset="1" stop-color="#6a3a3c"/></radialGradient>
<circle cx="538.8" cy="114.7" r="9.0" fill="url(#sg3)"/>
<radialGradient id="sg4" cx="0.42" cy="0.36" r="0.68"><stop offset="0" stop-color="#cfe0d8"/><stop offset="0.55" stop-color="#a8c4b8"/><stop offset="1" stop-color="#7a9488"/></radialGradient>
<circle cx="546.2" cy="145.6" r="9.0" fill="url(#sg4)"/>
<radialGradient id="sg5" cx="0.42" cy="0.36" r="0.68"><stop offset="0" stop-color="#ecd890"/><stop offset="0.55" stop-color="#d6bc66"/><stop offset="1" stop-color="#9a8440"/></radialGradient>
<circle cx="548.3" cy="274.5" r="9.2" fill="url(#sg5)"/>
<radialGradient id="sg6" cx="0.42" cy="0.36" r="0.68"><stop offset="0" stop-color="#ecdcec"/><stop offset="0.55" stop-color="#d2bcd2"/><stop offset="1" stop-color="#a890a8"/></radialGradient>
<circle cx="588.0" cy="300.4" r="9.2" fill="url(#sg6)"/>
<radialGradient id="sg7" cx="0.42" cy="0.36" r="0.68"><stop offset="0" stop-color="#e6c264"/><stop offset="0.55" stop-color="#cca23e"/><stop offset="1" stop-color="#8a6a22"/></radialGradient>
<circle cx="574.0" cy="310.0" r="9.2" fill="url(#sg7)"/>
<radialGradient id="sg8" cx="0.42" cy="0.36" r="0.68"><stop offset="0" stop-color="#c08484"/><stop offset="0.55" stop-color="#9c5858"/><stop offset="1" stop-color="#683838"/></radialGradient>
<circle cx="607.1" cy="318.5" r="9.2" fill="url(#sg8)"/>
<radialGradient id="sg9" cx="0.42" cy="0.36" r="0.68"><stop offset="0" stop-color="#8ab8a4"/><stop offset="0.55" stop-color="#5a8a78"/><stop offset="1" stop-color="#2e5446"/></radialGradient>
<circle cx="600.2" cy="349.3" r="9.2" fill="url(#sg9)"/>
<line x1="171" y1="43.20" x2="324.9" y2="43.20" stroke="#A88F5A" stroke-width="1.4"/>
<line x1="171" y1="53.12" x2="287.2" y2="53.12" stroke="#D0BC66" stroke-width="1.4"/>
<line x1="232.4" y1="63.04" x2="383.5" y2="63.04" stroke="#AC96AA" stroke-width="1.4"/>
<line x1="171" y1="72.96" x2="283.9" y2="72.96" stroke="#7A444C" stroke-width="1.4"/>
<line x1="171" y1="82.88" x2="332.7" y2="82.88" stroke="#7A444C" stroke-width="1.4"/>
<line x1="171" y1="92.80" x2="288.9" y2="92.80" stroke="#8DAA9C" stroke-width="1.4"/>
<line x1="199" y1="122.17" x2="293.5" y2="122.17" stroke="#A88F5A" stroke-width="1.4"/>
<line x1="171" y1="132.09" x2="261.4" y2="132.09" stroke="#D0BC66" stroke-width="1.4"/>
<line x1="171" y1="142.01" x2="237" y2="142.01" stroke="#AC96AA" stroke-width="1.4"/>
<line x1="171" y1="151.93" x2="215.4" y2="151.93" stroke="#7A444C" stroke-width="1.4"/>
<line x1="199" y1="161.85" x2="292.4" y2="161.85" stroke="#7A444C" stroke-width="1.4"/>
<line x1="206.7" y1="171.77" x2="297.1" y2="171.77" stroke="#8DAA9C" stroke-width="1.4"/>
<line x1="192.1" y1="201.14" x2="341.6" y2="201.14" stroke="#A88F5A" stroke-width="1.4"/>
<line x1="171" y1="211.06" x2="239.5" y2="211.06" stroke="#D0BC66" stroke-width="1.4"/>
<line x1="171" y1="220.98" x2="300" y2="220.98" stroke="#AC96AA" stroke-width="1.4"/>
<line x1="266.9" y1="230.90" x2="416.4" y2="230.90" stroke="#7A444C" stroke-width="1.4"/>
<line x1="210.3" y1="240.82" x2="359.1" y2="240.82" stroke="#7A444C" stroke-width="1.4"/>
<line x1="171" y1="250.74" x2="326" y2="250.74" stroke="#8DAA9C" stroke-width="1.4"/>
<line x1="171" y1="280.11" x2="330" y2="280.11" stroke="#A88F5A" stroke-width="1.4"/>
<line x1="171" y1="290.03" x2="312.4" y2="290.03" stroke="#D0BC66" stroke-width="1.4"/>
<line x1="245" y1="299.95" x2="394.9" y2="299.95" stroke="#AC96AA" stroke-width="1.4"/>
<line x1="171" y1="309.87" x2="317.5" y2="309.87" stroke="#7A444C" stroke-width="1.4"/>
<line x1="200.1" y1="319.79" x2="348.2" y2="319.79" stroke="#7A444C" stroke-width="1.4"/>
<line x1="171" y1="329.71" x2="289.5" y2="329.71" stroke="#8DAA9C" stroke-width="1.4"/>
<line x1="222" y1="359.08" x2="316.8" y2="359.08" stroke="#A88F5A" stroke-width="1.4"/>
<line x1="171" y1="369.00" x2="242.4" y2="369.00" stroke="#D0BC66" stroke-width="1.4"/>
<line x1="171" y1="378.92" x2="223.8" y2="378.92" stroke="#AC96AA" stroke-width="1.4"/>
<line x1="171" y1="388.84" x2="228.2" y2="388.84" stroke="#7A444C" stroke-width="1.4"/>
<line x1="219.4" y1="398.76" x2="314.3" y2="398.76" stroke="#7A444C" stroke-width="1.4"/>
<line x1="231.8" y1="408.68" x2="322.7" y2="408.68" stroke="#8DAA9C" stroke-width="1.4"/>
<line x1="171" y1="438.05" x2="276" y2="438.05" stroke="#A88F5A" stroke-width="1.4"/>
<line x1="171" y1="447.97" x2="226.7" y2="447.97" stroke="#D0BC66" stroke-width="1.4"/>
<line x1="171" y1="457.89" x2="308.8" y2="457.89" stroke="#AC96AA" stroke-width="1.4"/>
<line x1="171" y1="467.81" x2="328.5" y2="467.81" stroke="#7A444C" stroke-width="1.4"/>
<line x1="171" y1="477.73" x2="295" y2="477.73" stroke="#7A444C" stroke-width="1.4"/>
<line x1="171" y1="487.65" x2="282.9" y2="487.65" stroke="#8DAA9C" stroke-width="1.4"/>
<line x1="171" y1="517.02" x2="331.4" y2="517.02" stroke="#A88F5A" stroke-width="1.4"/>
<line x1="171" y1="526.94" x2="296" y2="526.94" stroke="#D0BC66" stroke-width="1.4"/>
<line x1="246.4" y1="536.86" x2="399.6" y2="536.86" stroke="#AC96AA" stroke-width="1.4"/>
<line x1="171" y1="546.78" x2="316.8" y2="546.78" stroke="#7A444C" stroke-width="1.4"/>
<line x1="190.3" y1="556.70" x2="348.5" y2="556.70" stroke="#7A444C" stroke-width="1.4"/>
<line x1="171" y1="566.62" x2="293.1" y2="566.62" stroke="#8DAA9C" stroke-width="1.4"/>
<line x1="205.2" y1="595.99" x2="298.6" y2="595.99" stroke="#A88F5A" stroke-width="1.4"/>
<line x1="213.6" y1="605.91" x2="297.9" y2="605.91" stroke="#D0BC66" stroke-width="1.4"/>
<line x1="171" y1="615.83" x2="233.7" y2="615.83" stroke="#AC96AA" stroke-width="1.4"/>
<line x1="194.6" y1="625.75" x2="289.8" y2="625.75" stroke="#7A444C" stroke-width="1.4"/>
<line x1="216.5" y1="635.67" x2="308.8" y2="635.67" stroke="#7A444C" stroke-width="1.4"/>
<line x1="205.2" y1="645.59" x2="295.7" y2="645.59" stroke="#8DAA9C" stroke-width="1.4"/>
<line x1="212.9" y1="674.96" x2="305.9" y2="674.96" stroke="#A88F5A" stroke-width="1.4"/>
<line x1="171" y1="684.88" x2="237.3" y2="684.88" stroke="#D0BC66" stroke-width="1.4"/>
<line x1="171" y1="694.80" x2="231.1" y2="694.80" stroke="#AC96AA" stroke-width="1.4"/>
<line x1="171" y1="704.72" x2="257.7" y2="704.72" stroke="#7A444C" stroke-width="1.4"/>
<line x1="199.4" y1="714.64" x2="292.4" y2="714.64" stroke="#7A444C" stroke-width="1.4"/>
<line x1="208.5" y1="724.56" x2="298.6" y2="724.56" stroke="#8DAA9C" stroke-width="1.4"/>
<line x1="192.8" y1="753.93" x2="293.5" y2="753.93" stroke="#A88F5A" stroke-width="1.4"/>
<line x1="215.4" y1="763.85" x2="306.2" y2="763.85" stroke="#D0BC66" stroke-width="1.4"/>
<line x1="171" y1="773.77" x2="250.4" y2="773.77" stroke="#AC96AA" stroke-width="1.4"/>
<line x1="219.4" y1="783.69" x2="316.1" y2="783.69" stroke="#7A444C" stroke-width="1.4"/>
<line x1="171" y1="793.61" x2="278.5" y2="793.61" stroke="#7A444C" stroke-width="1.4"/>
<line x1="171" y1="803.53" x2="266.9" y2="803.53" stroke="#8DAA9C" stroke-width="1.4"/>
<line x1="224.9" y1="832.90" x2="319.7" y2="832.90" stroke="#A88F5A" stroke-width="1.4"/>
<line x1="171" y1="842.82" x2="238.4" y2="842.82" stroke="#D0BC66" stroke-width="1.4"/>
<line x1="171" y1="852.74" x2="263.6" y2="852.74" stroke="#AC96AA" stroke-width="1.4"/>
<line x1="171" y1="862.66" x2="251.2" y2="862.66" stroke="#7A444C" stroke-width="1.4"/>
<line x1="223.1" y1="872.58" x2="317.5" y2="872.58" stroke="#7A444C" stroke-width="1.4"/>
<line x1="226" y1="882.50" x2="317.5" y2="882.50" stroke="#8DAA9C" stroke-width="1.4"/>
<circle cx="222.00" cy="53.12" r="2.70" fill="none" stroke="#d4bc5a" stroke-width="0.8"/>
<rect x="306.55" y="56.09" width="13.90" height="13.90" fill="#B083A9" stroke="none" stroke-width="0"/>
<polygon points="220.20,68.78 223.82,75.05 216.58,75.05" fill="none" stroke="#743e44" stroke-width="0.8" stroke-linejoin="miter"/>
<rect x="260.30" y="78.48" width="8.80" height="8.80" fill="none" stroke="#5e3a3d" stroke-width="1.0"/>
<rect x="221.80" y="90.30" width="5.00" height="5.00" fill="none" stroke="#8fb0a2" stroke-width="0.8"/>
<rect x="254.50" y="40.70" width="5.00" height="5.00" fill="none" stroke="#a88c4a" stroke-width="0.8"/>
<circle cx="221.30" cy="132.09" r="2.70" fill="none" stroke="#d4bc5a" stroke-width="0.8"/>
<rect x="197.30" y="139.51" width="5.00" height="5.00" fill="none" stroke="#b496b2" stroke-width="0.8"/>
<polygon points="183.70,147.75 187.32,154.02 180.08,154.02" fill="none" stroke="#743e44" stroke-width="0.8" stroke-linejoin="miter"/>
<rect x="242.75" y="154.90" width="13.90" height="13.90" fill="#7B2C2F" stroke="none" stroke-width="0"/>
<rect x="248.55" y="164.82" width="13.90" height="13.90" fill="#86AE9E" stroke="none" stroke-width="0"/>
<rect x="243.85" y="115.22" width="13.90" height="13.90" fill="#B88D2B" stroke="none" stroke-width="0"/>
<circle cx="176.00" cy="211.06" r="2.70" fill="none" stroke="#d4bc5a" stroke-width="0.8"/>
<rect x="223.10" y="218.48" width="5.00" height="5.00" fill="none" stroke="#b496b2" stroke-width="0.8"/>
<polygon points="341.60,218.78 352.10,236.96 331.10,236.96" fill="#7B2C2F" stroke="none" stroke-width="0" stroke-linejoin="miter"/>
<rect x="277.75" y="233.87" width="13.90" height="13.90" fill="#7B2C2F" stroke="none" stroke-width="0"/>
<rect x="246.80" y="246.34" width="8.80" height="8.80" fill="none" stroke="#809a8e" stroke-width="1.0"/>
<rect x="260.25" y="194.19" width="13.90" height="13.90" fill="#B88D2B" stroke="none" stroke-width="0"/>
<circle cx="235.90" cy="290.03" r="2.70" fill="none" stroke="#d4bc5a" stroke-width="0.8"/>
<rect x="312.75" y="293.00" width="13.90" height="13.90" fill="#B083A9" stroke="none" stroke-width="0"/>
<polygon points="243.90,305.69 247.52,311.96 240.28,311.96" fill="none" stroke="#743e44" stroke-width="0.8" stroke-linejoin="miter"/>
<rect x="269.80" y="315.39" width="8.80" height="8.80" fill="none" stroke="#5e3a3d" stroke-width="1.0"/>
<rect x="212.20" y="327.21" width="5.00" height="5.00" fill="none" stroke="#8fb0a2" stroke-width="0.8"/>
<rect x="251.50" y="275.71" width="8.80" height="8.80" fill="none" stroke="#967f48" stroke-width="1.0"/>
<circle cx="212.90" cy="369.00" r="2.70" fill="none" stroke="#d4bc5a" stroke-width="0.8"/>
<rect x="197.60" y="376.42" width="5.00" height="5.00" fill="none" stroke="#b496b2" stroke-width="0.8"/>
<polygon points="202.70,384.66 206.32,390.93 199.08,390.93" fill="none" stroke="#743e44" stroke-width="0.8" stroke-linejoin="miter"/>
<rect x="268.65" y="391.81" width="13.90" height="13.90" fill="#7B2C2F" stroke="none" stroke-width="0"/>
<rect x="277.75" y="401.73" width="13.90" height="13.90" fill="#86AE9E" stroke="none" stroke-width="0"/>
<rect x="270.85" y="352.13" width="13.90" height="13.90" fill="#B88D2B" stroke="none" stroke-width="0"/>
<circle cx="185.20" cy="447.97" r="2.70" fill="none" stroke="#d4bc5a" stroke-width="0.8"/>
<rect x="238.50" y="455.39" width="5.00" height="5.00" fill="none" stroke="#b496b2" stroke-width="0.8"/>
<polygon points="260.30,463.63 263.92,469.90 256.68,469.90" fill="none" stroke="#743e44" stroke-width="0.8" stroke-linejoin="miter"/>
<rect x="226.80" y="475.23" width="5.00" height="5.00" fill="none" stroke="#743e44" stroke-width="0.8"/>
<rect x="215.50" y="485.15" width="5.00" height="5.00" fill="none" stroke="#8fb0a2" stroke-width="0.8"/>
<rect x="210.40" y="435.55" width="5.00" height="5.00" fill="none" stroke="#a88c4a" stroke-width="0.8"/>
<circle cx="229.30" cy="526.94" r="2.70" fill="none" stroke="#d4bc5a" stroke-width="0.8"/>
<rect x="321.55" y="529.91" width="13.90" height="13.90" fill="#B083A9" stroke="none" stroke-width="0"/>
<polygon points="249.40,542.60 253.02,548.87 245.78,548.87" fill="none" stroke="#743e44" stroke-width="0.8" stroke-linejoin="miter"/>
<rect x="275.60" y="552.30" width="8.80" height="8.80" fill="none" stroke="#5e3a3d" stroke-width="1.0"/>
<rect x="225.00" y="564.12" width="5.00" height="5.00" fill="none" stroke="#8fb0a2" stroke-width="0.8"/>
<rect x="260.70" y="514.52" width="5.00" height="5.00" fill="none" stroke="#a88c4a" stroke-width="0.8"/>
<circle cx="258.50" cy="605.91" r="7.30" fill="#DCB83E" stroke="none" stroke-width="0"/>
<rect x="194.00" y="613.33" width="5.00" height="5.00" fill="none" stroke="#b496b2" stroke-width="0.8"/>
<polygon points="246.40,618.30 252.85,629.48 239.95,629.48" fill="none" stroke="#5e3a3d" stroke-width="1.0" stroke-linejoin="miter"/>
<rect x="258.85" y="628.72" width="13.90" height="13.90" fill="#7B2C2F" stroke="none" stroke-width="0"/>
<rect x="246.45" y="638.64" width="13.90" height="13.90" fill="#86AE9E" stroke="none" stroke-width="0"/>
<rect x="248.55" y="589.04" width="13.90" height="13.90" fill="#B88D2B" stroke="none" stroke-width="0"/>
<circle cx="200.10" cy="684.88" r="2.70" fill="none" stroke="#d4bc5a" stroke-width="0.8"/>
<rect x="192.10" y="692.30" width="5.00" height="5.00" fill="none" stroke="#b496b2" stroke-width="0.8"/>
<polygon points="216.50,700.54 220.12,706.81 212.88,706.81" fill="none" stroke="#743e44" stroke-width="0.8" stroke-linejoin="miter"/>
<rect x="243.15" y="707.69" width="13.90" height="13.90" fill="#7B2C2F" stroke="none" stroke-width="0"/>
<rect x="250.05" y="717.61" width="13.90" height="13.90" fill="#86AE9E" stroke="none" stroke-width="0"/>
<rect x="255.85" y="668.01" width="13.90" height="13.90" fill="#B88D2B" stroke="none" stroke-width="0"/>
<circle cx="269.40" cy="763.85" r="7.30" fill="#DCB83E" stroke="none" stroke-width="0"/>
<rect x="216.20" y="771.27" width="5.00" height="5.00" fill="none" stroke="#b496b2" stroke-width="0.8"/>
<polygon points="276.70,771.57 287.20,789.75 266.20,789.75" fill="#7B2C2F" stroke="none" stroke-width="0" stroke-linejoin="miter"/>
<rect x="238.80" y="789.21" width="8.80" height="8.80" fill="none" stroke="#5e3a3d" stroke-width="1.0"/>
<rect x="230.40" y="801.03" width="5.00" height="5.00" fill="none" stroke="#8fb0a2" stroke-width="0.8"/>
<rect x="251.50" y="749.53" width="8.80" height="8.80" fill="none" stroke="#967f48" stroke-width="1.0"/>
<circle cx="210.00" cy="842.82" r="2.70" fill="none" stroke="#d4bc5a" stroke-width="0.8"/>
<rect x="227.50" y="850.24" width="5.00" height="5.00" fill="none" stroke="#b496b2" stroke-width="0.8"/>
<polygon points="219.10,858.48 222.72,864.75 215.48,864.75" fill="none" stroke="#743e44" stroke-width="0.8" stroke-linejoin="miter"/>
<rect x="271.95" y="865.63" width="13.90" height="13.90" fill="#7B2C2F" stroke="none" stroke-width="0"/>
<rect x="273.05" y="875.55" width="13.90" height="13.90" fill="#86AE9E" stroke="none" stroke-width="0"/>
<rect x="273.75" y="825.95" width="13.90" height="13.90" fill="#B88D2B" stroke="none" stroke-width="0"/>
<line x1="251.8" y1="25" x2="251.8" y2="903" stroke="#404040" stroke-width="1.6" stroke-dasharray="4.6 4.914"/>
<line x1="154.85" y1="20.5" x2="154.85" y2="906" stroke="#000" stroke-width="2.3"/>
<line x1="153.7" y1="904.85" x2="553.8" y2="904.85" stroke="#000" stroke-width="2.3"/>
<line x1="251.8" y1="905" x2="251.8" y2="907.6" stroke="#333" stroke-width="1.1"/>
<text x="251.8" y="923.1" class="xt" text-anchor="middle">0.20</text>
<line x1="373.0" y1="905" x2="373.0" y2="907.6" stroke="#333" stroke-width="1.1"/>
<text x="373.0" y="923.1" class="xt" text-anchor="middle">0.50</text>
<line x1="494.3" y1="905" x2="494.3" y2="907.6" stroke="#333" stroke-width="1.1"/>
<text x="494.3" y="923.1" class="xt" text-anchor="middle">0.80</text>
<line x1="150.3" y1="68.00" x2="153.6" y2="68.00" stroke="#c4c4c4" stroke-width="1.5"/>
<text x="147.5" y="73.50" class="yt" text-anchor="end" dy="0.2">Group</text>
<line x1="150.3" y1="146.97" x2="153.6" y2="146.97" stroke="#c4c4c4" stroke-width="1.5"/>
<text x="147.5" y="152.47" class="yt" text-anchor="end" dy="0.2">Time post-injury</text>
<line x1="150.3" y1="225.94" x2="153.6" y2="225.94" stroke="#c4c4c4" stroke-width="1.5"/>
<text x="147.5" y="231.44" class="yt" text-anchor="end" dy="0.2">Age at injury</text>
<line x1="150.3" y1="304.91" x2="153.6" y2="304.91" stroke="#c4c4c4" stroke-width="1.5"/>
<text x="147.5" y="310.41" class="yt" text-anchor="end" dy="0.2">Sex</text>
<line x1="150.3" y1="383.88" x2="153.6" y2="383.88" stroke="#c4c4c4" stroke-width="1.5"/>
<text x="147.5" y="389.38" class="yt" text-anchor="end" dy="0.2">Group x Time</text>
<line x1="150.3" y1="462.85" x2="153.6" y2="462.85" stroke="#c4c4c4" stroke-width="1.5"/>
<text x="147.5" y="468.35" class="yt" text-anchor="end" dy="0.2">Group x Age</text>
<line x1="150.3" y1="541.82" x2="153.6" y2="541.82" stroke="#c4c4c4" stroke-width="1.5"/>
<text x="147.5" y="547.32" class="yt" text-anchor="end" dy="0.2">Group x Sex</text>
<line x1="150.3" y1="620.79" x2="153.6" y2="620.79" stroke="#c4c4c4" stroke-width="1.5"/>
<text x="147.5" y="626.29" class="yt" text-anchor="end" dy="0.2">Time x Age</text>
<line x1="150.3" y1="699.76" x2="153.6" y2="699.76" stroke="#c4c4c4" stroke-width="1.5"/>
<text x="147.5" y="705.26" class="yt" text-anchor="end" dy="0.2">Time x Sex</text>
<line x1="150.3" y1="778.73" x2="153.6" y2="778.73" stroke="#c4c4c4" stroke-width="1.5"/>
<text x="147.5" y="784.23" class="yt" text-anchor="end" dy="0.2">Group x Time x Age</text>
<line x1="150.3" y1="857.70" x2="153.6" y2="857.70" stroke="#c4c4c4" stroke-width="1.5"/>
<text x="147.5" y="863.20" class="yt" text-anchor="end" dy="0.2">Group x Time x Sex</text>
<text x="277.2" y="950" class="xtitle" textLength="77.1" lengthAdjust="spacingAndGlyphs">Cohen's</text>
<text x="361.3" y="950" class="xtitle" font-style="italic">d</text>
<text x="382.6" y="950" class="xtitle" textLength="90" lengthAdjust="spacingAndGlyphs">(95% CI)</text>
<text x="492.5" y="432.9" class="lt">Region (node)</text>
<rect x="493.3" y="448.00" width="15" height="11.9" rx="1" fill="#B88D2B"/>
<text x="519.5" y="458.70" class="ll">Thalamus</text>
<rect x="493.3" y="467.05" width="15" height="11.9" rx="1" fill="#DCB83E"/>
<text x="519.5" y="478.20" class="ll">Supramarginal gyrus</text>
<rect x="493.3" y="486.10" width="15" height="11.9" rx="1" fill="#B083A9"/>
<text x="519.5" y="497.70" class="ll">Rolandic operculum</text>
<rect x="493.3" y="505.15" width="15" height="11.9" rx="1" fill="#7B2C2F"/>
<text x="519.5" y="517.20" class="ll">Putamen</text>
<rect x="493.3" y="524.20" width="15" height="11.9" rx="1" fill="#86AE9E"/>
<text x="519.5" y="536.70" class="ll">Amygdala</text>
<text x="492.5" y="572.9" class="lt">Significance</text>
<circle cx="501.6" cy="593.80" r="2.9" fill="none" stroke="#222" stroke-width="0.9"/>
<text x="519.5" y="600.50" class="ll ls">Nonsignificant <tspan font-style="italic">p</tspan> &gt;0.05</text>
<circle cx="501.6" cy="612.80" r="5.0" fill="none" stroke="#222" stroke-width="1.0"/>
<text x="519.5" y="619.80" class="ll ls">Uncorrected <tspan font-style="italic">p</tspan> &lt;0.05</text>
<circle cx="501.6" cy="632.00" r="7.3" fill="#000"/>
<text x="519.5" y="639.10" class="ll ls">FDR corrected <tspan font-style="italic">p</tspan> &lt;0.025</text>
<text x="492.5" y="681.1" class="lt">Metric</text>
<circle cx="501.6" cy="702.60" r="6.1" fill="none" stroke="#222" stroke-width="1.0"/>
<text x="519.5" y="707.90" class="ll lm">Betweenness centrality</text>
<rect x="496.40" y="716.45" width="10.9" height="10.9" fill="none" stroke="#222" stroke-width="1.0"/>
<text x="519.5" y="727.40" class="ll lm">Clustering coefficient</text>
<polygon points="501.6,731.40 509.40,744.91 493.80,744.91" fill="none" stroke="#222" stroke-width="1.0"/>
<text x="519.5" y="746.40" class="ll lm">Efficiency</text>
</svg>
</body></html>
